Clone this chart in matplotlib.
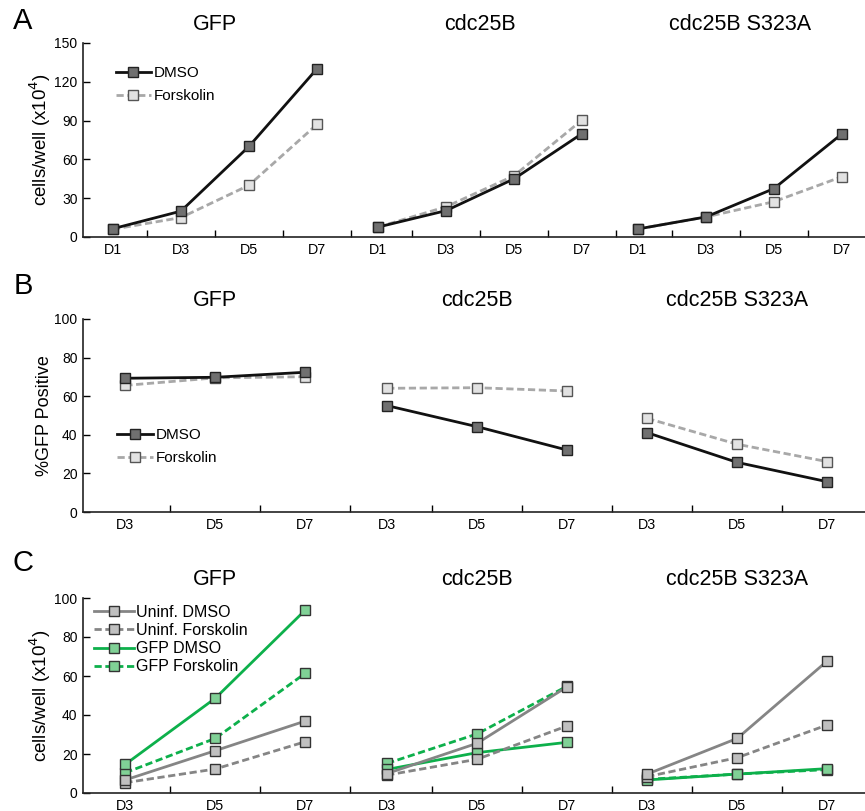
import numpy as np
import matplotlib.pyplot as plt

plt.rcParams['font.family'] = ['Liberation Sans', 'DejaVu Sans']

groups = ['GFP', 'cdc25B', 'cdc25B S323A']

# Panel A: cell counts (x10^4), days D1..D7
days_a = ['D1', 'D3', 'D5', 'D7']
a_dmso = [[6.4, 20, 70, 130], [7.7, 20.4, 45, 80], [6.2, 15.5, 37.4, 79.7]]
a_forsk = [[6.0, 15, 40, 87], [7.7, 23.4, 47.4, 90.5], [6.2, 15.5, 27.3, 46.6]]

# Panel B: %GFP positive, days D3..D7
days_b = ['D3', 'D5', 'D7']
b_dmso = [[69.3, 69.8, 72.4], [55.1, 44.2, 32.1], [41.1, 25.7, 15.7]]
b_forsk = [[65.6, 69.5, 70.1], [64.1, 64.4, 62.7], [48.5, 35.1, 26.1]]

# Panel C: cell counts (x10^4), uninfected vs GFP+
c_uninf_dmso = [[6.7, 21.7, 36.9], [10.0, 25.5, 54.5], [9.7, 28.0, 67.7]]
c_uninf_forsk = [[5.3, 12.3, 26.3], [9.2, 17.3, 34.4], [8.4, 18.1, 34.9]]
c_gfp_dmso = [[14.7, 48.6, 93.8], [12.1, 20.7, 26.0], [6.7, 9.7, 12.5]]
c_gfp_forsk = [[10.4, 28.0, 61.4], [15.2, 30.3, 54.8], [7.0, 9.7, 12.0]]

W, H = 865, 811
fig = plt.figure(figsize=(W / 100, H / 100), dpi=100)


def make_axes(top_px, bottom_px):
    return fig.add_axes([83 / W, 1 - bottom_px / H, 1 - 83 / W, (bottom_px - top_px) / H])


def setup_x(ax, n, offsets, xlim):
    pos, labels, bounds = [], [], []
    for off in offsets:
        for i in range(n):
            pos.append(off + i)
            bounds.append(off + i + 0.5)
        labels += days_a if n == 4 else days_b
    ax.set_xlim(*xlim)
    ax.set_xticks([b for b in bounds if b < xlim[1]])
    ax.set_xticklabels([])
    ax.set_xticks(pos, minor=True)
    ax.set_xticklabels(labels, minor=True)
    ax.tick_params(axis='x', which='major', direction='in', length=5, width=1)
    ax.tick_params(axis='x', which='minor', length=0, pad=4, labelsize=10.3)
    ax.tick_params(axis='y', direction='in', length=5, width=1, labelsize=10, pad=4)
    for s in ['top', 'right']:
        ax.spines[s].set_visible(False)
    for s in ['left', 'bottom']:
        ax.spines[s].set_linewidth(1.2)
        ax.spines[s].set_color('#222222')


def titles(ax, offsets, n):
    for g, off in zip(groups, offsets):
        ax.text(off + (n - 1) / 2, 1.095, g, transform=ax.get_xaxis_transform(),
                ha='center', va='center', fontsize=15.5)


dmso_kw = dict(color='#111111', lw=2.0, marker='s', ms=7.5, mfc='#707070', mec='#222222', mew=1.0)
forsk_kw = dict(color='#a8a8a8', lw=2.0, ls=(0, (2.6, 1.3)), marker='s', ms=7.5,
                mfc='#e2e2e2', mec='#555555', mew=1.0)

# ---- Row A
axA = make_axes(43, 237)
off_a = [0, 3.9, 7.72]
for g, off in enumerate(off_a):
    x = np.arange(4) + off
    axA.plot(x, a_forsk[g], label='Forskolin' if g == 0 else None, zorder=2, **forsk_kw)
    axA.plot(x, a_dmso[g], label='DMSO' if g == 0 else None, zorder=3, **dmso_kw)
setup_x(axA, 4, off_a, (-0.44, 11.06))
axA.set_ylim(0, 150)
axA.set_yticks([0, 30, 60, 90, 120, 150])
axA.set_ylabel('cells/well (x10$^4$)', fontsize=13.5, labelpad=1)
titles(axA, off_a, 4)
h, l = axA.get_legend_handles_labels()
axA.legend(h[::-1], l[::-1], loc='upper left', bbox_to_anchor=(0.042, 0.88), frameon=False,
           fontsize=11, handlelength=2.3, handletextpad=0.2, labelspacing=0.6,
           borderpad=0, borderaxespad=0)

# ---- Row B
axB = make_axes(319, 512)
off_b = [0, 2.91, 5.8]
for g, off in enumerate(off_b):
    x = np.arange(3) + off
    axB.plot(x, b_forsk[g], label='Forskolin' if g == 0 else None, zorder=2, **forsk_kw)
    axB.plot(x, b_dmso[g], label='DMSO' if g == 0 else None, zorder=3, **dmso_kw)
setup_x(axB, 3, off_b, (-0.47, 8.22))
axB.set_ylim(0, 100)
axB.set_yticks([0, 20, 40, 60, 80, 100])
axB.set_ylabel('%GFP Positive', fontsize=13, labelpad=1)
titles(axB, off_b, 3)
h, l = axB.get_legend_handles_labels()
axB.legend(h[::-1], l[::-1], loc='upper left', bbox_to_anchor=(0.044, 0.435), frameon=False,
           fontsize=11, handlelength=2.3, handletextpad=0.2, labelspacing=0.6,
           borderpad=0, borderaxespad=0)

# ---- Row C
axC = make_axes(598, 793)
green = '#0db04b'
ud_kw = dict(color='#858585', lw=2.0, marker='s', ms=7.5, mfc='#c0c0c0', mec='#333333', mew=1.0)
uf_kw = dict(color='#858585', lw=2.0, ls=(0, (2.6, 1.3)), marker='s', ms=7.5,
             mfc='#c0c0c0', mec='#333333', mew=1.0)
gd_kw = dict(color=green, lw=2.0, marker='s', ms=7.5, mfc='#80d196', mec='#333333', mew=1.0)
gf_kw = dict(color=green, lw=2.0, ls=(0, (2.6, 1.3)), marker='s', ms=7.5,
             mfc='#80d196', mec='#333333', mew=1.0)
for g, off in enumerate(off_b):
    x = np.arange(3) + off
    first = g == 0
    axC.plot(x, c_gfp_forsk[g], label='GFP Forskolin' if first else None, zorder=2, **gf_kw)
    axC.plot(x, c_gfp_dmso[g], label='GFP DMSO' if first else None, zorder=2, **gd_kw)
    axC.plot(x, c_uninf_forsk[g], label='Uninf. Forskolin' if first else None, zorder=3, **uf_kw)
    axC.plot(x, c_uninf_dmso[g], label='Uninf. DMSO' if first else None, zorder=3, **ud_kw)
setup_x(axC, 3, off_b, (-0.47, 8.22))
axC.set_ylim(0, 100)
axC.set_yticks([0, 20, 40, 60, 80, 100])
axC.set_ylabel('cells/well (x10$^4$)', fontsize=13.5, labelpad=1)
titles(axC, off_b, 3)
h, l = axC.get_legend_handles_labels()
axC.legend(h[::-1], l[::-1], loc='upper left', bbox_to_anchor=(0.014, 0.965), frameon=False,
           fontsize=11.5, handlelength=2.5, handletextpad=0.15, labelspacing=0.2,
           borderpad=0, borderaxespad=0)

# panel letters
for letter, ypx in zip('ABC', [21, 286, 563]):
    fig.text(23 / W, 1 - ypx / H, letter, fontsize=21, ha='center', va='center')

fig.savefig('out.png', dpi=100)
